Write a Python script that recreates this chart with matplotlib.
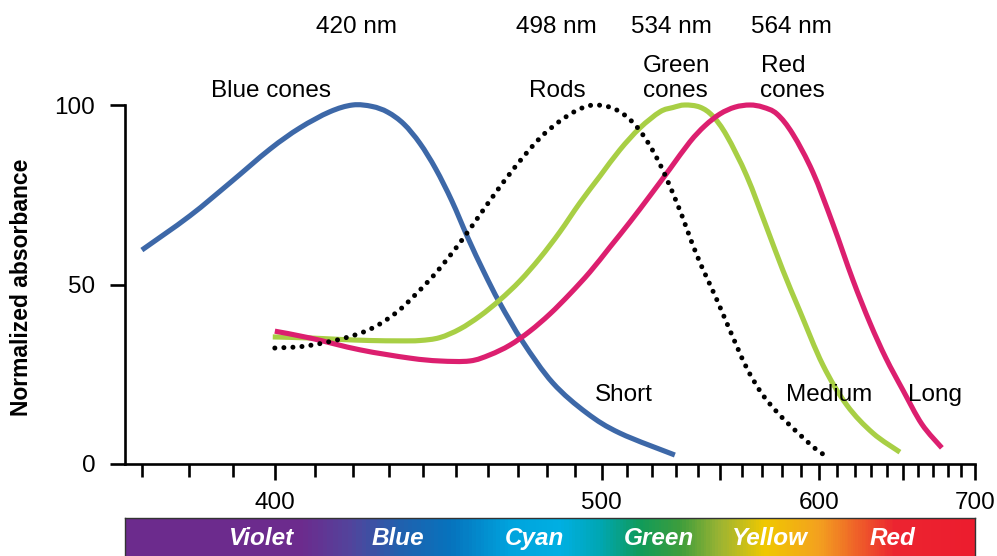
import numpy as np
import matplotlib
matplotlib.use("Agg")
import matplotlib.pyplot as plt
from matplotlib.colors import LinearSegmentedColormap
from matplotlib.path import Path
from matplotlib.patches import PathPatch

plt.rcParams['font.family'] = ['Liberation Sans', 'DejaVu Sans']

# absorbance spectra (wavelength in nm, normalized absorbance)
blue_nm = [369.9, 380.2, 389.3, 398.8, 406.2, 413.9, 420, 425.3, 429.7, 434.3, 439.0, 443.7, 448.6,
           453.6, 458.7, 463.9, 471.6, 482.0, 494.4, 507.1, 529.7]
blue_abs = [59.6, 69.1, 78.3, 87.7, 93.6, 98.1, 100, 99.6, 98.0, 94.7, 89.3, 82.2, 73.3,
            63.0, 53.5, 44.8, 34.0, 22.6, 14.2, 8.6, 2.5]

rod_nm = [400, 408.0, 417.9, 425.5, 432.3, 438.1, 444.0, 451.1, 457.4, 463.9, 470.6, 477.5, 484.5, 491.8,
          498, 505.9, 513.9, 522.1, 530.6, 539.3, 548.4, 554.4, 562.5, 570.4, 579.0, 587.9, 598.6, 603.0]
rod_abs = [32.3, 32.9, 35.1, 37.9, 42.3, 47.6, 53.5, 61.6, 69.4, 77.2, 84.4, 90.8, 95.5, 98.9,
           100, 98.6, 93.9, 85.2, 72.7, 58.2, 45.7, 37.3, 26.7, 19.2, 13.6, 8.9, 3.9, 2.5]

green_nm = [399.5, 408.8, 416.6, 424.7, 433.1, 439.0, 444.9, 451.1, 457.4, 463.9, 470.6, 477.5, 484.5,
            491.8, 499.4, 507.1, 515.1, 523.4, 528.9, 534, 540.7, 546.5, 553.0, 562.5, 572.4, 580.5,
            589.4, 601.9, 615.5, 631.0, 647.9]
green_abs = [35.4, 35.1, 34.7, 34.4, 34.3, 34.4, 35.2, 37.6, 41.2, 45.7, 51.0, 57.4, 64.6,
             72.7, 80.2, 87.5, 93.6, 98.1, 99.3, 100, 99.4, 96.9, 91.4, 80.2, 65.7, 54.0,
             42.6, 27.6, 16.4, 8.6, 3.3]

red_nm = [400, 408.8, 422.0, 436.0, 444.9, 454.2, 460.6, 467.2, 474.0, 481.0, 488.2, 495.6, 503.2, 511.1,
          519.2, 527.6, 536.2, 542.9, 549.8, 556.8, 564, 570.4, 577.5, 585.7, 596.4, 607.5, 619.0,
          629.2, 639.0, 649.8, 662.3, 676.0]
red_abs = [37.0, 35.1, 31.8, 29.5, 28.7, 28.7, 30.4, 33.1, 37.0, 41.8, 47.4, 53.5, 60.4, 67.4,
           74.7, 82.2, 89.7, 94.2, 97.5, 99.4, 100, 99.4, 97.5, 91.9, 81.3, 66.9, 51.3,
           39.3, 29.5, 20.6, 11.1, 4.5]

# visible spectrum strip
spectrum_nm = [366.4, 406, 419, 433, 448, 467, 484.5, 499.4, 515, 532, 550, 571.4, 600, 624, 645, 700]
spectrum_colors = ['#6c2b8d', '#6c2b8d', '#52449c', '#2061ae', '#0673bd', '#00a3dd', '#00afe2', '#00a6b2',
                   '#109b5a', '#3d9d3c', '#9db432', '#f0c800', '#f3a01f', '#ee5a2a', '#ec2430', '#ec1c2e']
band_names = ['Violet', 'Blue', 'Cyan', 'Green', 'Yellow', 'Red']
band_nm = [396.8, 432.6, 475.7, 522.9, 573.9, 643.4]

W, H = 997, 556
fig = plt.figure(figsize=(W / 100, H / 100), dpi=100)


def px(x, y):
    return x / W, 1 - y / H


def fwd(x):
    with np.errstate(divide='ignore', invalid='ignore'):
        return -1.0 / np.asarray(x, dtype=float)


def inv(u):
    with np.errstate(divide='ignore', invalid='ignore'):
        return -1.0 / np.asarray(u, dtype=float)


def smooth_line(ax, xs, ys, **kw):
    # Catmull-Rom through the points, built as cubic Bezier segments in screen space
    pts = ax.transData.transform(np.column_stack([xs, ys]))
    ext = np.vstack([pts[0], pts, pts[-1]])
    verts = [pts[0]]
    codes = [Path.MOVETO]
    for i in range(1, len(ext) - 2):
        p0, p1, p2, p3 = ext[i - 1], ext[i], ext[i + 1], ext[i + 2]
        verts += [p1 + (p2 - p0) / 6, p2 - (p3 - p1) / 6, p2]
        codes += [Path.CURVE4] * 3
    verts = ax.transData.inverted().transform(np.array(verts))
    patch = PathPatch(Path(verts, codes), fill=False, transform=ax.transData, clip_on=False, **kw)
    ax.add_patch(patch)
    return patch


ax = fig.add_axes([125 / W, 92 / H, 850 / W, 359 / H])
ax.set_xscale('function', functions=(fwd, inv))
ax.set_xlim(366.4, 700)
ax.set_ylim(0, 100)

lw = 3.7
smooth_line(ax, blue_nm, blue_abs, edgecolor='#3d68a8', lw=lw, capstyle='butt')
smooth_line(ax, green_nm, green_abs, edgecolor='#a8cf45', lw=lw, capstyle='butt')
smooth_line(ax, red_nm, red_abs, edgecolor='#dc1f6f', lw=lw, capstyle='butt')
smooth_line(ax, rod_nm, rod_abs, edgecolor='black', lw=3.6, linestyle=(0, (0.01, 1.8)), capstyle='round')

for side in ['top', 'right']:
    ax.spines[side].set_visible(False)
for side in ['left', 'bottom']:
    ax.spines[side].set_linewidth(1.9)

ax.set_xticks([400, 500, 550, 600, 650, 700])
ax.set_xticklabels(['400', '500', '', '600', '', '700'])
ax.set_xticks([w for w in range(370, 700, 10) if w not in (400, 500, 550, 600, 650)], minor=True)
ax.set_yticks([0, 50, 100])
ax.tick_params(axis='x', which='major', length=11.5, width=1.9, pad=9, labelsize=17.5)
ax.tick_params(axis='x', which='minor', length=9, width=1.9)
ax.tick_params(axis='y', length=11, width=1.9, pad=10.5, labelsize=17.5)

# peak wavelengths and curve names
fs = 17.5
for txt, x in [('420 nm', 356), ('498 nm', 556), ('534 nm', 671), ('564 nm', 791)]:
    fig.text(*px(x, 33), txt, ha='center', va='baseline', fontsize=fs)
fig.text(*px(271, 97), 'Blue cones', ha='center', va='baseline', fontsize=fs)
fig.text(*px(557, 97), 'Rods', ha='center', va='baseline', fontsize=fs)
fig.text(*px(643, 72), 'Green', ha='left', va='baseline', fontsize=fs)
fig.text(*px(643, 97), 'cones', ha='left', va='baseline', fontsize=fs)
fig.text(*px(761, 72), 'Red', ha='left', va='baseline', fontsize=fs)
fig.text(*px(760, 97), 'cones', ha='left', va='baseline', fontsize=fs)
fig.text(*px(595, 401), 'Short', ha='left', va='baseline', fontsize=fs)
fig.text(*px(786, 401), 'Medium', ha='left', va='baseline', fontsize=fs)
fig.text(*px(908, 401), 'Long', ha='left', va='baseline', fontsize=fs)

fig.text(*px(22, 287), 'Normalized absorbance', rotation=90, ha='center', va='center',
         fontsize=16.5, fontweight='bold')

# spectrum bar under the axis
cax = fig.add_axes([125 / W, -5 / H, 850 / W, 43 / H], sharex=ax)
lo, hi = spectrum_nm[0], spectrum_nm[-1]
cmap = LinearSegmentedColormap.from_list(
    'spectrum', [((w - lo) / (hi - lo), c) for w, c in zip(spectrum_nm, spectrum_colors)])
edges = np.linspace(lo, hi, 600)
centers = 0.5 * (edges[:-1] + edges[1:])
cax.pcolormesh(edges, [0, 1], centers[None, :], cmap=cmap, vmin=lo, vmax=hi, shading='flat')
cax.set_ylim(0, 1)
cax.set_yticks([])
cax.tick_params(axis='x', which='both', bottom=False, labelbottom=False)
for side in ['top', 'left', 'right']:
    cax.spines[side].set_linewidth(1.0)
    cax.spines[side].set_color('#333333')
cax.spines['bottom'].set_visible(False)
for name, w in zip(band_names, band_nm):
    cax.text(w, 0.53, name, transform=cax.get_xaxis_transform(), ha='center', va='center',
             color='white', fontsize=17.5, fontweight='bold', fontstyle='italic')

fig.savefig('out.png', dpi=100)
